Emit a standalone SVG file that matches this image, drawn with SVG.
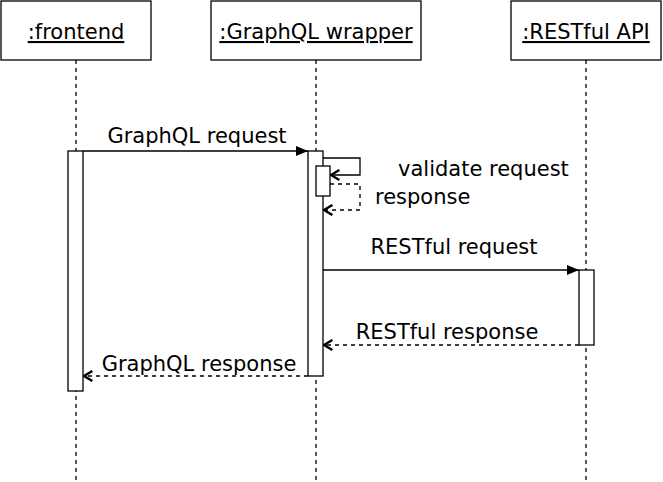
<svg xmlns="http://www.w3.org/2000/svg" width="663" height="482" viewBox="0 0 663 482">
<defs>
<marker id="block" viewBox="0 0 10 10" refX="10" refY="5" markerWidth="12" markerHeight="12" markerUnits="userSpaceOnUse" orient="auto">
<path d="M0,0.8 L10,5 L0,9.2 Z" fill="#000"/>
</marker>
<marker id="open" viewBox="0 0 10 10" refX="9" refY="5" markerWidth="12" markerHeight="12" markerUnits="userSpaceOnUse" orient="auto">
<path d="M2,0.8 L9,5 L2,9.2" fill="none" stroke="#000" stroke-width="2"/>
</marker>
<style>
.box{fill:#fff;stroke:#000;stroke-width:1.3}
.life{stroke:#000;stroke-width:1.3;stroke-dasharray:4 4;fill:none}
.act{fill:#fff;stroke:#000;stroke-width:1.3}
.msg{stroke:#000;stroke-width:1.3;fill:none}
.ret{stroke:#000;stroke-width:1.3;fill:none;stroke-dasharray:4 4}
text{font-family:"DejaVu Sans",sans-serif;font-size:21px;fill:#000}
.hd{text-anchor:middle;text-decoration:underline}
.lbl{text-anchor:middle}
</style>
</defs>
<g id="frontend">
<rect class="box" x="1" y="1" width="150" height="59"/>
<text class="hd" x="76" y="39">:frontend</text>
<line class="life" x1="76" y1="60" x2="76" y2="482"/>
<rect class="act" x="68" y="151" width="15" height="240"/>
</g>
<g id="wrapper">
<rect class="box" x="211" y="1" width="210" height="59"/>
<text class="hd" x="316" y="39">:GraphQL wrapper</text>
<line class="life" x1="316" y1="60" x2="316" y2="482"/>
<rect class="act" x="308" y="151" width="15" height="225"/>
<rect class="act" x="316" y="166" width="14" height="30"/>
</g>
<g id="restapi">
<rect class="box" x="511" y="1" width="150" height="59"/>
<text class="hd" x="586" y="39">:RESTful API</text>
<line class="life" x1="586" y1="60" x2="586" y2="482"/>
<rect class="act" x="579" y="270" width="15" height="75"/>
</g>
<g id="connectors">
<line class="msg" x1="83" y1="151" x2="308" y2="151" marker-end="url(#block)"/>
<text class="lbl" x="197" y="143">GraphQL request</text>
<polyline class="msg" points="323,158 360,158 360,175 331,175" marker-end="url(#open)"/>
<text x="398" y="176">validate request</text>
<polyline class="ret" points="330,184 360,184 360,210 324,210" marker-end="url(#open)"/>
<text x="375" y="204">response</text>
<line class="msg" x1="323" y1="270" x2="579" y2="270" marker-end="url(#block)"/>
<text class="lbl" x="454" y="254">RESTful request</text>
<line class="ret" x1="579" y1="345" x2="324" y2="345" marker-end="url(#open)"/>
<text class="lbl" x="447" y="339">RESTful response</text>
<line class="ret" x1="308" y1="376" x2="84" y2="376" marker-end="url(#open)"/>
<text class="lbl" x="199" y="371">GraphQL response</text>
</g>
</svg>
